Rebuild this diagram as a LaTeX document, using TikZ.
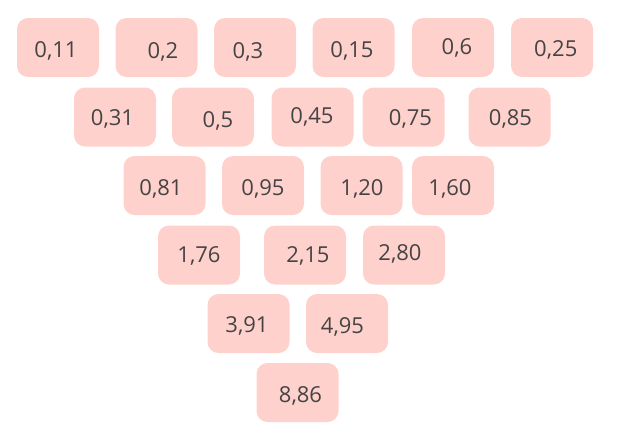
\documentclass[tikz,border=0pt]{standalone}
\usepackage{fontspec}
\setmainfont{Open Sans}
\definecolor{cellpink}{RGB}{255,209,204}
\definecolor{celltext}{RGB}{68,68,68}
\tikzset{
  cellbox/.style={fill=cellpink, rounded corners=11pt, minimum width=82pt, minimum height=59pt, inner sep=0pt},
  num/.style={text=celltext, font=\fontsize{22}{26}\selectfont, inner sep=0pt, anchor=base}
}
% #1 name, #2 #3 box centre, #4 #5 text centre, #6 text
\newcommand\cellnode[6]{%
  \node[cellbox] (b#1) at (#2,#3) {};
  \node[num] (t#1) at (#4,#5+8) {#6};
}
\begin{document}
\begin{tikzpicture}[x=1pt,y=-1pt]
\useasboundingbox (0,0) rectangle (640,429);
% row 1
\cellnode{1}{58}{47.5}{56}{49}{0,11}
\cellnode{2}{156.5}{47.5}{163}{50}{0,2}
\cellnode{3}{255}{47.5}{248}{50}{0,3}
\cellnode{4}{353.5}{47.5}{352}{49.5}{0,15}
\cellnode{5}{453}{47.5}{457}{46.7}{0,6}
\cellnode{6}{552}{47.5}{555.8}{48.3}{0,25}
% row 2
\cellnode{7}{115}{117}{112.5}{117.5}{0,31}
\cellnode{8}{213}{117}{218}{119}{0,5}
\cellnode{9}{312.5}{117}{312}{115.5}{0,45}
\cellnode{10}{403.5}{117}{410.5}{117.5}{0,75}
\cellnode{11}{509.5}{117}{510.5}{117.5}{0,85}
% row 3
\cellnode{12}{164.5}{185.5}{161}{187}{0,81}
\cellnode{13}{263}{185.5}{263}{187}{0,95}
\cellnode{14}{361.5}{185.5}{362}{187}{1,20}
\cellnode{15}{453}{185.5}{450}{187}{1,60}
% row 4
\cellnode{16}{199}{255}{199}{254.5}{1,76}
\cellnode{17}{305}{255}{308}{254.5}{2,15}
\cellnode{18}{404}{255}{400}{252.5}{2,80}
% row 5
\cellnode{19}{248.5}{323.5}{247}{324}{3,91}
\cellnode{20}{347}{323.5}{342.5}{325}{4,95}
% row 6
\cellnode{21}{297.5}{392.5}{300.5}{394}{8,86}
\end{tikzpicture}
\end{document}
